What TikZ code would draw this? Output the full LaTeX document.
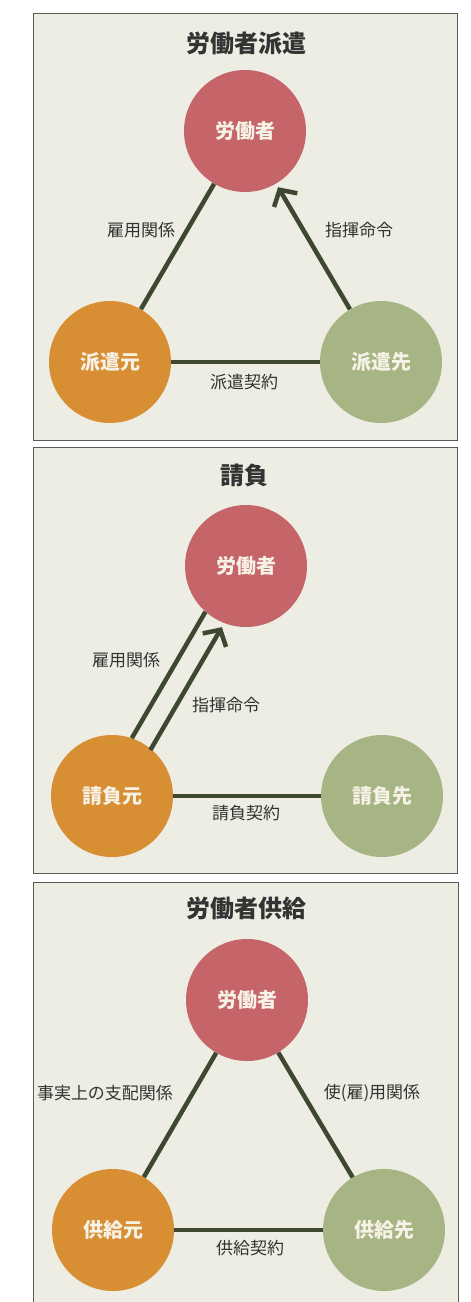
\documentclass[tikz,border=0pt]{standalone}
\usepackage{fontspec}
\setmainfont{Noto Sans CJK JP}
\usetikzlibrary{arrows.meta,calc}
\definecolor{paper}{HTML}{EEEDE3}
\definecolor{framegray}{HTML}{5A5A55}
\definecolor{workerred}{HTML}{C5656A}
\definecolor{originorange}{HTML}{D88E33}
\definecolor{clientgreen}{HTML}{A7B585}
\definecolor{linkgreen}{HTML}{3E4830}
\definecolor{inkgray}{HTML}{333333}
\definecolor{labelwhite}{HTML}{F7F2E6}
\tikzset{
  panel/.style={draw=framegray,line width=0.8pt,fill=paper},
  party/.style={circle,minimum size=122pt,inner sep=0pt,text=labelwhite,
    font=\fontsize{20}{20}\selectfont\bfseries},
  worker/.style={party,fill=workerred},
  origin/.style={party,fill=originorange},
  client/.style={party,fill=clientgreen},
  heading/.style={font=\fontsize{24}{24}\selectfont\bfseries,text=inkgray},
  rel/.style={font=\fontsize{17}{17}\selectfont,text=inkgray},
  link/.style={line width=4.5pt,draw=linkgreen},
  order/.style={link,-{Straight Barb[length=12pt,width=27pt]},shorten >=4pt}
}
\begin{document}
\begin{tikzpicture}[x=1pt,y=-1pt]
  \useasboundingbox[fill=white] (0,0) rectangle (471,1302);
  \draw[panel] (33,13) rectangle (457,440);
  \draw[panel] (33,447) rectangle (457,873);
  \draw[panel] (33,882) rectangle (458,1310);

  \node[heading] (t1) at (246,43) {労働者派遣};
  \node[worker] (w1) at (245,131) {労働者};
  \node[origin] (m1) at (110,362) {派遣元};
  \node[client] (s1) at (381,362) {派遣先};
  \begin{scope}
    \draw[link] (m1) to (w1);
    \draw[order] (s1) to (w1);
    \draw[link] (m1) to (s1);
  \end{scope}
  \node[rel] (e1) at (141,230) {雇用関係};
  \node[rel] (c1) at (359,230) {指揮命令};
  \node[rel] (k1) at (244,382) {派遣契約};

  \node[heading] (t2) at (244,475) {請負};
  \node[worker] (w2) at (246,566) {労働者};
  \node[origin] (m2) at (112,796) {請負元};
  \node[client] (s2) at (382,796) {請負先};
  \begin{scope}
    \draw[link] ($(m2)!60pt!(w2)!12pt!90:(w2)$) to ($(w2)!60pt!(m2)!12pt!-90:(m2)$);
    \draw[order] ($(m2)!59pt!(w2)!10pt!-90:(w2)$) to ($(w2)!61pt!(m2)!10pt!90:(m2)$);
    \draw[link] (m2) to (s2);
  \end{scope}
  \node[rel] (e2) at (126,660) {雇用関係};
  \node[rel] (c2) at (226,705) {指揮命令};
  \node[rel] (k2) at (246,813) {請負契約};

  \node[heading] (t3) at (246,908) {労働者供給};
  \node[worker] (w3) at (247,1000) {労働者};
  \node[origin] (m3) at (113,1230) {供給元};
  \node[client] (s3) at (384,1230) {供給先};
  \begin{scope}
    \draw[link] (m3) to (w3);
    \draw[link] (s3) to (w3);
    \draw[link] (m3) to (s3);
  \end{scope}
  \node[rel] (e3) at (105,1093) {事実上の支配関係};
  \node[rel] (c3) at (372,1093) {使(雇)用関係};
  \node[rel] (k3) at (250,1248) {供給契約};
\end{tikzpicture}
\end{document}
